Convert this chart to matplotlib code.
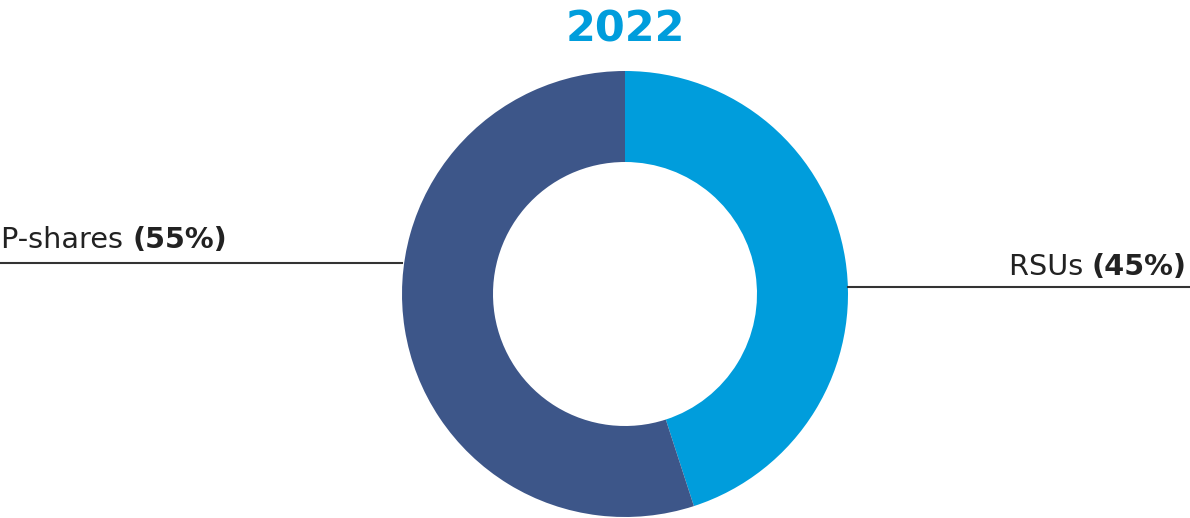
import matplotlib
matplotlib.use("Agg")
import matplotlib.pyplot as plt

# data
year = "2022"
labels = ["RSUs", "P-shares"]
shares = [45, 55]
colors = ["#009ddc", "#3d5689"]

plt.rcParams['font.family'] = ['DejaVu Sans']

fig = plt.figure(figsize=(11.9, 5.18), dpi=100)
ax = fig.add_axes([0, 0, 1, 1])

# donut (pixel-like coordinates, y up)
cx, cy, r_out, r_in = 625, 224, 223, 132
ax.pie(shares, colors=colors, startangle=90, counterclock=False,
       center=(cx, cy), radius=r_out, frame=True,
       wedgeprops=dict(width=r_out - r_in, linewidth=0))
ax.set_xlim(0, 1190)
ax.set_ylim(0, 518)
ax.set_aspect('equal')
ax.axis('off')

ax.text(cx, 489, year, ha='center', va='center', fontsize=31,
        fontweight='bold', color=colors[0])

# leader lines
ax.plot([0, cx - r_out], [255, 255], color='#333333', lw=1.5)
ax.plot([cx + r_out, 1190], [231, 231], color='#333333', lw=1.5)

fs = 20.7
# left label
t1 = ax.text(1, 270, labels[1] + " ", ha='left', va='baseline', fontsize=fs, color='#222222')
ax.annotate(f"({shares[1]}%)", xy=(1, 0), xycoords=t1, ha='left', va='bottom',
            fontsize=fs, fontweight='bold', color='#222222')

# right label
t2 = ax.text(1187, 243, f"({shares[0]}%)", ha='right', va='baseline', fontsize=fs,
             fontweight='bold', color='#222222')
ax.annotate(labels[0] + " ", xy=(0, 0), xycoords=t2, ha='right', va='bottom',
            fontsize=fs, color='#222222')

fig.savefig("out.png", dpi=100)
